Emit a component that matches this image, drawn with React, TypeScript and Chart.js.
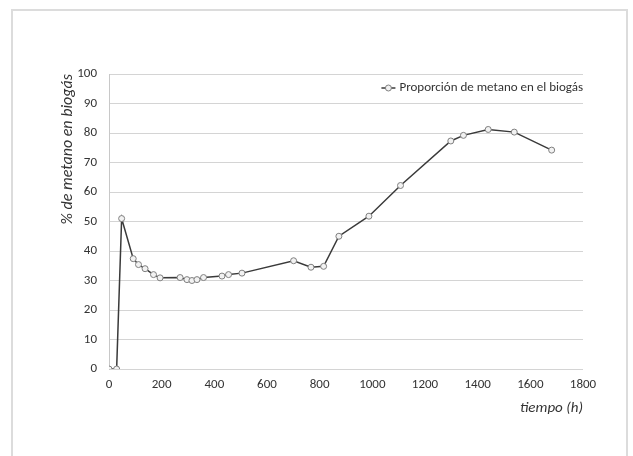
import React, { useEffect, useRef } from "react";
import { Chart, registerables } from "chart.js";

Chart.register(...registerables);

const hours = [0, 29, 48, 92, 112, 137, 169, 194, 270, 296, 315, 334, 359, 429, 454, 505, 701, 767, 815, 873, 987, 1107, 1298, 1346, 1440, 1539, 1681];
const methane = [0, 0, 51, 37.4, 35.4, 34, 32, 30.9, 31, 30.3, 30, 30.3, 31, 31.5, 32, 32.5, 36.7, 34.5, 34.8, 45, 51.8, 62.2, 77.3, 79.2, 81.2, 80.3, 74.2];
const seriesLabel = "Proporción de metano en el biogás";
const yTitle = "% de metano en biogás";
const xTitle = "tiempo (h)";

const FONT = "Carlito, Lato, 'Open Sans', sans-serif";

const framePlugin = {
  id: "frame",
  beforeDraw(chart: any) {
    const ctx = chart.ctx;
    ctx.save();
    ctx.fillStyle = "#ffffff";
    ctx.fillRect(0, 0, chart.width, chart.height);
    ctx.strokeStyle = "#dcdcdc";
    ctx.lineWidth = 2;
    ctx.strokeRect(12, 10, 615, 470);
    ctx.restore();
  },
};

const legendPlugin = {
  id: "customLegend",
  afterDraw(chart: any) {
    const ctx = chart.ctx;
    const area = chart.chartArea;
    ctx.save();
    ctx.font = `13px ${FONT}`;
    ctx.fillStyle = "#333333";
    ctx.textBaseline = "middle";
    ctx.textAlign = "left";
    const w = ctx.measureText(seriesLabel).width;
    const y = area.top + 14;
    const tx = area.right - w;
    ctx.fillText(seriesLabel, tx, y);
    ctx.strokeStyle = "#3a3a3a";
    ctx.lineWidth = 1.5;
    ctx.beginPath();
    ctx.moveTo(tx - 18, y);
    ctx.lineTo(tx - 4, y);
    ctx.stroke();
    ctx.beginPath();
    ctx.arc(tx - 11, y, 3, 0, Math.PI * 2);
    ctx.fillStyle = "#f2f2f2";
    ctx.fill();
    ctx.strokeStyle = "#808080";
    ctx.lineWidth = 1;
    ctx.stroke();
    ctx.restore();
  },
};

export default function App() {
  const ref = useRef<HTMLCanvasElement>(null);
  useEffect(() => {
    if (!ref.current) return;
    const chart = new Chart(ref.current, {
      type: "scatter",
      data: {
        datasets: [
          {
            label: seriesLabel,
            data: hours.map((h, i) => ({ x: h, y: methane[i] })),
            showLine: true,
            borderColor: "#3a3a3a",
            borderWidth: 1.5,
            pointRadius: 3,
            pointBackgroundColor: "#f2f2f2",
            pointBorderColor: "#808080",
            pointBorderWidth: 1,
            tension: 0,
          },
        ],
      },
      options: {
        responsive: false,
        animation: false,
        devicePixelRatio: 1,
        layout: { padding: { left: 54, right: 50, top: 74, bottom: 35 } },
        plugins: {
          legend: { display: false },
          tooltip: { enabled: false },
        },
        scales: {
          x: {
            type: "linear",
            min: 0,
            max: 1800,
            ticks: {
              stepSize: 200,
              color: "#333",
              font: { family: FONT, size: 13 },
              padding: 8,
              maxRotation: 0,
              callback: (v: any) => String(v),
            },
            grid: { display: false, drawTicks: false },
            border: { display: false },
            title: { display: true, text: xTitle, align: "end", color: "#333", font: { family: FONT, size: 15, style: "italic" } },
            afterFit: (s: any) => { s.height = 52; },
          },
          y: {
            min: 0,
            max: 100,
            ticks: { stepSize: 10, color: "#333", font: { family: FONT, size: 13 }, padding: 12, callback: (v: any) => String(v) },
            grid: { color: "#d4d4d4", lineWidth: 1, drawTicks: false },
            border: { display: true, color: "#c8c8c8", width: 1 },
            title: { display: true, text: yTitle, align: "end", color: "#333", font: { family: FONT, size: 16, style: "italic" } },
            afterFit: (s: any) => { s.width = 55; },
          },
        },
      },
      plugins: [framePlugin, legendPlugin],
    });
    return () => chart.destroy();
  }, []);
  return (
    <div style={{ position: "fixed", left: 0, top: 0, width: 633, height: 456, background: "#fff" }}>
      <canvas ref={ref} width={633} height={456} style={{ display: "block" }} />
    </div>
  );
}
